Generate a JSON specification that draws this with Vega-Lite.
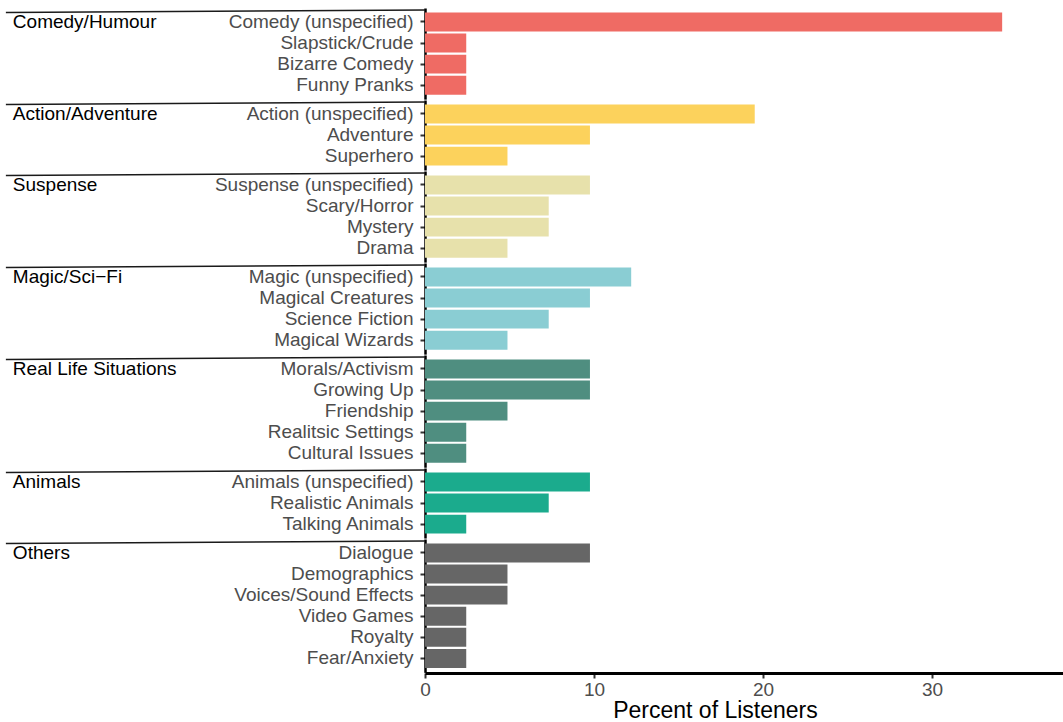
{
  "$schema": "https://vega.github.io/schema/vega-lite/v6.json",
  "autosize": {"type": "pad"},
  "padding": {"left": 5, "top": 8, "right": 0, "bottom": 0},
  "background": "white",
  "config": {"view": {"stroke": null}, "font": "Liberation Sans"},
  "data": {"values": [
    {"group": "Comedy/Humour", "sub": "Comedy (unspecified)", "pct": 34.15, "first": true},
    {"group": "Comedy/Humour", "sub": "Slapstick/Crude", "pct": 2.44, "first": false},
    {"group": "Comedy/Humour", "sub": "Bizarre Comedy", "pct": 2.44, "first": false},
    {"group": "Comedy/Humour", "sub": "Funny Pranks", "pct": 2.44, "first": false},
    {"group": "Action/Adventure", "sub": "Action (unspecified)", "pct": 19.51, "first": true},
    {"group": "Action/Adventure", "sub": "Adventure", "pct": 9.76, "first": false},
    {"group": "Action/Adventure", "sub": "Superhero", "pct": 4.88, "first": false},
    {"group": "Suspense", "sub": "Suspense (unspecified)", "pct": 9.76, "first": true},
    {"group": "Suspense", "sub": "Scary/Horror", "pct": 7.32, "first": false},
    {"group": "Suspense", "sub": "Mystery", "pct": 7.32, "first": false},
    {"group": "Suspense", "sub": "Drama", "pct": 4.88, "first": false},
    {"group": "Magic/Sci−Fi", "sub": "Magic (unspecified)", "pct": 12.2, "first": true},
    {"group": "Magic/Sci−Fi", "sub": "Magical Creatures", "pct": 9.76, "first": false},
    {"group": "Magic/Sci−Fi", "sub": "Science Fiction", "pct": 7.32, "first": false},
    {"group": "Magic/Sci−Fi", "sub": "Magical Wizards", "pct": 4.88, "first": false},
    {"group": "Real Life Situations", "sub": "Morals/Activism", "pct": 9.76, "first": true},
    {"group": "Real Life Situations", "sub": "Growing Up", "pct": 9.76, "first": false},
    {"group": "Real Life Situations", "sub": "Friendship", "pct": 4.88, "first": false},
    {"group": "Real Life Situations", "sub": "Realitsic Settings", "pct": 2.44, "first": false},
    {"group": "Real Life Situations", "sub": "Cultural Issues", "pct": 2.44, "first": false},
    {"group": "Animals", "sub": "Animals (unspecified)", "pct": 9.76, "first": true},
    {"group": "Animals", "sub": "Realistic Animals", "pct": 7.32, "first": false},
    {"group": "Animals", "sub": "Talking Animals", "pct": 2.44, "first": false},
    {"group": "Others", "sub": "Dialogue", "pct": 9.76, "first": true},
    {"group": "Others", "sub": "Demographics", "pct": 4.88, "first": false},
    {"group": "Others", "sub": "Voices/Sound Effects", "pct": 4.88, "first": false},
    {"group": "Others", "sub": "Video Games", "pct": 2.44, "first": false},
    {"group": "Others", "sub": "Royalty", "pct": 2.44, "first": false},
    {"group": "Others", "sub": "Fear/Anxiety", "pct": 2.44, "first": false}
  ]},
  "facet": {
    "row": {"field": "group", "type": "nominal", "header": null,
      "sort": ["Comedy/Humour", "Action/Adventure", "Suspense", "Magic/Sci−Fi", "Real Life Situations", "Animals", "Others"]}
  },
  "spacing": 0,
  "bounds": "flush",
  "resolve": {"scale": {"y": "independent"}},
  "spec": {
    "width": 638,
    "height": {"step": 21.1},
    "layer": [
      {
        "mark": {"type": "bar"},
        "encoding": {
          "y": {
            "field": "sub", "type": "nominal", "sort": null,
            "scale": {"paddingInner": 0.1, "paddingOuter": 0.21},
            "axis": {"title": null, "labelFontSize": 19, "labelColor": "#4d4d4d", "labelPadding": 7, "labelLimit": 400, "tickSize": 5, "tickColor": "#333333", "tickWidth": 2, "domainColor": "black", "domainWidth": 2.5, "grid": false}
          },
          "x": {
            "field": "pct", "type": "quantitative",
            "title": "Percent of Listeners",
            "scale": {"domain": [0, 37.75], "nice": false},
            "axis": {"values": [0, 10, 20, 30], "grid": false, "labelFlush": false, "labelFontSize": 19, "labelColor": "#4d4d4d", "labelPadding": 2, "tickSize": 5, "tickColor": "#333333", "tickWidth": 2, "domainColor": "black", "domainWidth": 3, "titleFontSize": 23, "titleFontWeight": "normal", "titleColor": "black", "titlePadding": 0, "titleX": 290}
          },
          "color": {
            "field": "group", "type": "nominal", "legend": null,
            "scale": {"domain": ["Comedy/Humour", "Action/Adventure", "Suspense", "Magic/Sci−Fi", "Real Life Situations", "Animals", "Others"], "range": ["#EF6B64", "#FCD25C", "#E7E1AB", "#8ACDD3", "#4F8E80", "#1BAB8D", "#666666"]}
          }
        }
      },
      {
        "transform": [{"filter": {"field": "first", "equal": true}}],
        "mark": {"type": "rule", "color": "#1a1a1a", "strokeWidth": 1.6, "y2Offset": -2.5},
        "encoding": {
          "y": {"field": "sub", "type": "nominal", "sort": null, "bandPosition": 0},
          "y2": {"field": "sub", "bandPosition": 0},
          "x": {"datum": -24.8, "type": "quantitative"},
          "x2": {"datum": 0}
        }
      },
      {
        "transform": [{"filter": {"field": "first", "equal": true}}],
        "mark": {"type": "text", "align": "left", "baseline": "middle", "dx": 7, "fontSize": 19, "color": "black"},
        "encoding": {
          "y": {"field": "sub", "type": "nominal", "sort": null},
          "x": {"datum": -24.8, "type": "quantitative"},
          "text": {"field": "group"}
        }
      }
    ]
  }
}
